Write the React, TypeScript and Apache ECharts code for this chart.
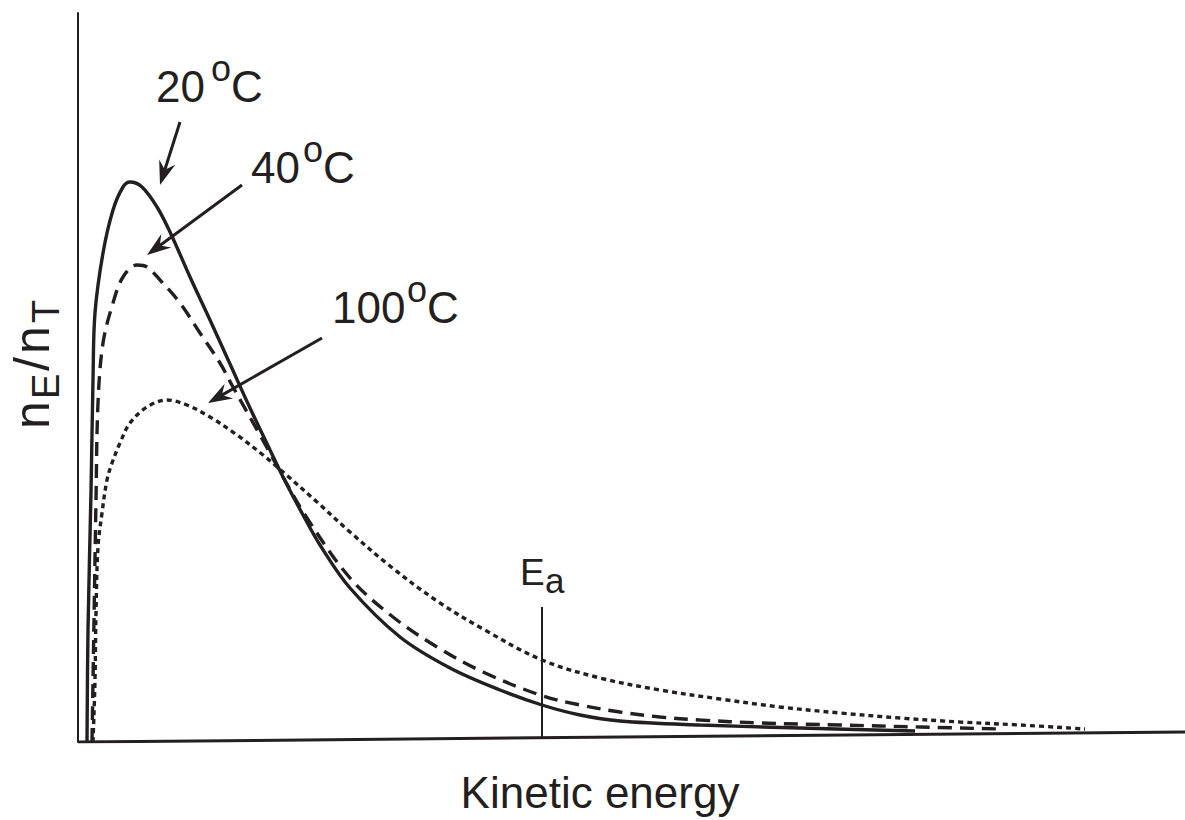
import React, { useEffect, useRef } from "react";
import * as echarts from "echarts";

const INK = "#231f20";
const FONT = "'Liberation Sans', Arial, Helvetica, sans-serif";

// Kinetic energy (x) vs n_E/n_T (y), arbitrary units
const curve20C: [number, number][] = [
  [9, 0], [10, 112], [13, 250], [15, 362], [17, 429], [25, 489], [35, 532], [45, 555],
  [52, 560], [64, 555], [79, 535], [92, 510], [112, 465], [132, 422], [152, 378],
  [172, 334], [192, 292], [205, 265], [225, 227], [242, 197], [272, 154], [322, 105],
  [372, 74], [422, 52], [464, 37], [502, 27], [542, 21], [622, 17], [722, 14], [837, 11],
];
const curve40C: [number, number][] = [
  [14, 0], [16, 122], [18, 242], [20, 339], [25, 399], [35, 439], [45, 465], [59, 477],
  [69, 475], [82, 462], [102, 439], [122, 409], [142, 379], [155, 355], [192, 289],
  [205, 265], [229, 224], [272, 164], [315, 125], [359, 95], [405, 70], [462, 47],
  [502, 37], [542, 30], [582, 25], [622, 22], [682, 19], [762, 17], [842, 15], [922, 13],
];
const curve100C: [number, number][] = [
  [15, 0], [17, 62], [18, 129], [20, 195], [24, 229], [29, 262], [34, 279], [42, 299],
  [52, 319], [69, 335], [89, 342], [109, 337], [132, 325], [159, 307], [185, 287],
  [205, 270], [239, 240], [272, 210], [312, 176], [359, 141], [405, 113], [464, 82],
  [522, 64], [582, 52], [642, 43], [702, 35], [762, 29], [822, 24], [882, 20], [942, 17],
  [1007, 13],
];
const baselineLine: [number, number][] = [[0, 0], [1107, 10]];
const activationEnergy = 464;
const eaLine: [number, number][] = [[activationEnergy, 3], [activationEnergy, 135]];
const seriesNames = ["20 °C", "40 °C", "100 °C"];
const temperatureLabels = ["20", "40", "100"];
const xTitle = "Kinetic energy";

function arrow(x1: number, y1: number, x2: number, y2: number) {
  const dx = x2 - x1, dy = y2 - y1;
  const len = Math.hypot(dx, dy);
  const ux = dx / len, uy = dy / len;
  const nx = -uy, ny = ux;
  const L = 24, W = 8.5, N = 16;
  const bx = x2 - ux * L, by = y2 - uy * L;
  const mx = x2 - ux * N, my = y2 - uy * N;
  return [
    { type: "line", shape: { x1, y1, x2: mx, y2: my }, style: { stroke: INK, lineWidth: 3 } },
    {
      type: "polygon",
      shape: { points: [[x2, y2], [bx + nx * W, by + ny * W], [mx, my], [bx - nx * W, by - ny * W]] },
      style: { fill: INK },
    },
  ];
}

function txt(text: string, x: number, y: number, size: number, align = "left") {
  return {
    type: "text",
    x,
    y,
    style: { text, fill: INK, font: `${size}px ${FONT}`, align, verticalAlign: "middle" },
  };
}

function tempLabel(num: string, x: number, y: number, oX: number) {
  return [txt(num, x, y, 44), txt("o", oX, y - 18, 36), txt("C", oX + 20, y, 44)];
}

export default function App() {
  const ref = useRef<HTMLDivElement>(null);
  useEffect(() => {
    if (!ref.current) return;
    const chart = echarts.init(ref.current, undefined, { renderer: "svg" });
    const lineBase = { type: "line", symbol: "none", showSymbol: false, silent: true };
    chart.setOption({
      animation: false,
      backgroundColor: "#ffffff",
      grid: { left: 78, right: 0, top: 13, bottom: 78 },
      xAxis: {
        type: "value", min: 0, max: 1107,
        axisLine: { show: false }, axisTick: { show: false }, axisLabel: { show: false }, splitLine: { show: false },
      },
      yAxis: {
        type: "value", min: 0, max: 729,
        axisLine: { show: true, lineStyle: { color: INK, width: 2 } },
        axisTick: { show: false }, axisLabel: { show: false }, splitLine: { show: false },
      },
      series: [
        { ...lineBase, name: "baseline", data: baselineLine, lineStyle: { color: INK, width: 3 } },
        { ...lineBase, name: "Ea", data: eaLine, lineStyle: { color: INK, width: 2 } },
        { ...lineBase, name: seriesNames[2], data: curve100C, smooth: 0.35, lineStyle: { color: INK, width: 3.4, type: [5, 4] } },
        { ...lineBase, name: seriesNames[1], data: curve40C, smooth: 0.35, lineStyle: { color: INK, width: 3.4, type: [14, 8] } },
        { ...lineBase, name: seriesNames[0], data: curve20C, smooth: 0.35, lineStyle: { color: INK, width: 3.4 } },
      ],
      graphic: [
        ...tempLabel(temperatureLabels[0], 156, 86, 211),
        ...tempLabel(temperatureLabels[1], 251, 167, 303),
        ...tempLabel(temperatureLabels[2], 332, 307, 407),
        ...arrow(180, 122, 160, 185),
        ...arrow(242, 185, 147, 255),
        ...arrow(322, 338, 208, 403),
        txt("E", 520, 572, 37),
        txt("a", 545, 580, 35),
        txt(xTitle, 600, 792, 44, "center"),
        {
          type: "group",
          x: 32,
          y: 429,
          rotation: Math.PI / 2,
          children: [
            txt("n", 0, 0, 50),
            txt("E", 30, 14, 38),
            txt("/", 58, 0, 50),
            txt("n", 75, 0, 50),
            txt("T", 106, 14, 38),
          ],
        },
      ],
    });
    return () => chart.dispose();
  }, []);
  return <div ref={ref} style={{ position: "fixed", left: 0, top: 0, width: 1185, height: 820 }} />;
}
